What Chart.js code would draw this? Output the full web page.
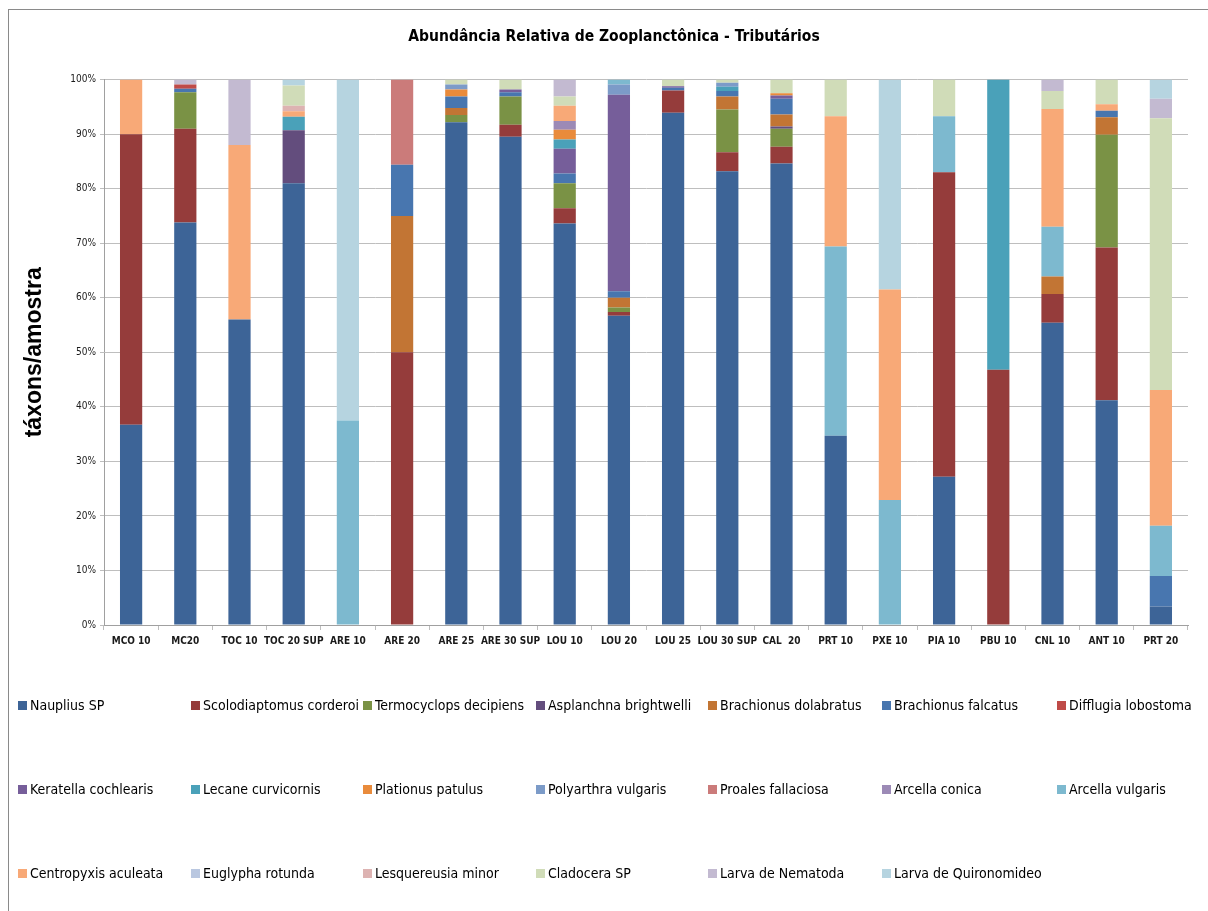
<!DOCTYPE html>
<html lang="pt">
<head>
<meta charset="UTF-8">
<title>Abundância Relativa de Zooplanctônica - Tributários</title>
<script src="https://cdn.jsdelivr.net/npm/chart.js"></script>
<style>
  html, body { margin: 0; padding: 0; background: #fff; }
  #wrap { position: relative; width: 1208px; height: 911px; overflow: hidden; }
  #frame { position: absolute; left: 8px; top: 9px; width: 1400px; height: 1100px;
           border-left: 1px solid #8a8a8a; border-top: 1px solid #8a8a8a; }
  #chart { position: absolute; left: 0; top: 0; }
  #legend { position: absolute; left: 0; top: 0; width: 1208px; height: 911px; pointer-events: none;
            font-family: "Liberation Sans Narrow", "DejaVu Sans Condensed", sans-serif; font-size: 14px; color: #000; }
  .item { position: absolute; height: 20px; line-height: 20px; display: flex; align-items: center; white-space: nowrap; }
  .item span.box { width: 9px; height: 9px; margin-right: 3px; display: inline-block; }
</style>
</head>
<body>
<div id="wrap">
  <div id="frame"></div>
  <canvas id="chart" width="1208" height="911"></canvas>
  <div id="legend"></div>
</div>
<script>
// categories (sampling points)
const pontos = ["MCO 10", "MC20", "TOC 10", "TOC 20 SUP", "ARE 10", "ARE 20", "ARE 25", "ARE 30 SUP",
                "LOU 10", "LOU 20", "LOU 25", "LOU 30 SUP", "CAL  20", "PRT 10", "PXE 10", "PIA 10",
                "PBU 10", "CNL 10", "ANT 10", "PRT 20"];

// relative abundance (%) per taxon, one value per point
const naupliusSP       = [36.7, 73.8, 56.0, 81.0, 0, 0, 92.2, 89.5, 73.6, 56.7, 93.9, 83.2, 84.6, 34.7, 0, 27.2, 0, 55.4, 41.2, 3.4];
const scolodiaptomus   = [53.3, 17.2, 0, 0, 0, 50.0, 0, 2.2, 2.8, 0.7, 4.1, 3.5, 3.1, 0, 0, 55.8, 46.8, 5.3, 28.0, 0];
const termocyclops     = [0, 6.7, 0, 0, 0, 0, 1.3, 5.2, 4.6, 0.8, 0, 7.8, 3.3, 0, 0, 0, 0, 0, 20.7, 0];
const asplanchna       = [0, 0, 0, 9.7, 0, 0, 0, 0, 0, 0, 0, 0, 0.4, 0, 0, 0, 0, 0, 0, 0];
const brachDolabratus  = [0, 0, 0, 0, 0, 25.0, 1.3, 0, 0, 1.8, 0, 2.4, 2.2, 0, 0, 0, 0, 3.2, 3.2, 0];
const brachFalcatus    = [0, 0.6, 0, 0, 0, 9.4, 2.1, 0.8, 1.8, 1.2, 0.5, 1.0, 2.9, 0, 0, 0, 0, 0, 1.2, 5.6];
const difflugia        = [0, 0.8, 0, 0, 0, 0, 0, 0, 0, 0, 0, 0, 0, 0, 0, 0, 0, 0, 0, 0];
const keratella        = [0, 0, 0, 0, 0, 0, 0, 0.5, 4.5, 36.0, 0.3, 0, 0.6, 0, 0, 0, 0, 0, 0, 0];
const lecane           = [0, 0, 0, 2.5, 0, 0, 0, 0, 1.7, 0, 0, 0.8, 0, 0, 0, 0, 53.2, 0, 0, 0];
const plationus        = [0, 0, 0, 0, 0, 0, 1.3, 0, 1.8, 0, 0, 0, 0.4, 0, 0, 0, 0, 0, 0, 0];
const polyarthra       = [0, 0, 0, 0, 0, 0, 0.9, 0, 0, 1.9, 0, 0.7, 0, 0, 0, 0, 0, 0, 0, 0];
const proales          = [0, 0, 0, 0, 0, 15.6, 0, 0, 0, 0, 0, 0, 0, 0, 0, 0, 0, 0, 0, 0];
const arcellaConica    = [0, 0, 0, 0, 0, 0, 0, 0, 1.6, 0, 0, 0, 0, 0, 0, 0, 0, 0, 0, 0];
const arcellaVulgaris  = [0, 0, 0, 0, 37.5, 0, 0, 0, 0, 0.9, 0, 0, 0, 34.7, 22.9, 10.3, 0, 9.1, 0, 9.2];
const centropyxis      = [10.0, 0, 32.0, 1.0, 0, 0, 0, 0, 2.8, 0, 0, 0, 0, 23.9, 38.6, 0, 0, 21.6, 1.2, 24.9];
const euglypha         = [0, 0, 0, 0, 0, 0, 0, 0, 0, 0, 0, 0, 0, 0, 0, 0, 0, 0, 0, 0];
const lesquereusia     = [0, 0, 0, 1.0, 0, 0, 0, 0, 0, 0, 0, 0, 0, 0, 0, 0, 0, 0, 0, 0];
const cladoceraSP      = [0, 0, 0, 3.7, 0, 0, 0.9, 1.8, 1.7, 0, 1.2, 0.6, 2.5, 6.7, 0, 6.7, 0, 3.3, 4.5, 49.8];
const larvaNematoda    = [0, 0.9, 12.0, 0, 0, 0, 0, 0, 3.1, 0, 0, 0, 0, 0, 0, 0, 0, 2.1, 0, 3.6];
const larvaQuironom    = [0, 0, 0, 1.1, 62.5, 0, 0, 0, 0, 0, 0, 0, 0, 0, 38.5, 0, 0, 0, 0, 3.5];

const yTicks = [0, 10, 20, 30, 40, 50, 60, 70, 80, 90, 100];

const series = [
  ["Nauplius SP", naupliusSP, "#3d6497"],
  ["Scolodiaptomus corderoi", scolodiaptomus, "#953c3b"],
  ["Termocyclops decipiens", termocyclops, "#7a9245"],
  ["Asplanchna brightwelli", asplanchna, "#634d7d"],
  ["Brachionus dolabratus", brachDolabratus, "#c27534"],
  ["Brachionus falcatus", brachFalcatus, "#4876af"],
  ["Difflugia lobostoma", difflugia, "#bf4b48"],
  ["Keratella cochlearis", keratella, "#765e9a"],
  ["Lecane curvicornis", lecane, "#4aa1b9"],
  ["Plationus patulus", plationus, "#e98b3b"],
  ["Polyarthra vulgaris", polyarthra, "#7c9bc8"],
  ["Proales fallaciosa", proales, "#cb7b7a"],
  ["Arcella conica", arcellaConica, "#9c8ab6"],
  ["Arcella vulgaris", arcellaVulgaris, "#7db9cf"],
  ["Centropyxis aculeata", centropyxis, "#f8a977"],
  ["Euglypha rotunda", euglypha, "#b9c7e0"],
  ["Lesquereusia minor", lesquereusia, "#ddb3b2"],
  ["Cladocera SP", cladoceraSP, "#d0dcb8"],
  ["Larva de Nematoda", larvaNematoda, "#c3bad1"],
  ["Larva de Quironomideo", larvaQuironom, "#b6d4e0"]
];

const narrow = '"Liberation Sans Narrow", "DejaVu Sans Condensed", sans-serif';

new Chart(document.getElementById('chart'), {
  type: 'bar',
  data: {
    labels: pontos,
    datasets: series.map(s => ({
      label: s[0],
      data: s[1],
      backgroundColor: s[2],
      borderWidth: 0,
      barPercentage: 0.41,
      categoryPercentage: 1.0
    }))
  },
  options: {
    responsive: false,
    animation: false,
    // left padding keeps the title centred like the original; y axis fills the rest
    layout: { padding: { top: 10, left: 40, right: 20, bottom: 250 } },
    plugins: {
      legend: { display: false },
      tooltip: { enabled: false },
      title: {
        display: true,
        text: 'Abundância Relativa de Zooplanctônica - Tributários',
        color: '#000',
        font: { family: narrow, size: 15.5, weight: 'bold' },
        padding: { top: 18, bottom: 33 }
      }
    },
    scales: {
      x: {
        stacked: true,
        afterFit: s => { s.height = 36; },
        grid: { drawOnChartArea: false, tickLength: 5, color: '#bebebe' },
        border: { color: '#a0a0a0' },
        ticks: { color: '#1a1a1a', font: { family: narrow, size: 10, weight: 'bold' }, padding: 5, maxRotation: 0, autoSkip: false }
      },
      y: {
        stacked: true,
        min: 0,
        max: 100,
        afterFit: s => { s.width = 64; },
        afterBuildTicks: s => { s.ticks = yTicks.map(v => ({ value: v })); },
        grid: { color: '#bebebe', tickLength: 4 },
        border: { color: '#a0a0a0' },
        ticks: { color: '#1a1a1a', font: { family: narrow, size: 10 }, padding: 4, callback: v => v + '%' },
        title: {
          display: true,
          text: 'táxons/amostra',
          color: '#000',
          font: { family: 'Liberation Sans, sans-serif', size: 23, weight: 'bold' },
          padding: { top: -19, bottom: 0 }
        }
      }
    }
  }
});

// legend: 3 rows x 7 columns, like the spreadsheet chart
const legendCols = [18, 191, 363, 536, 708, 882, 1057];
const legendRows = [705, 789, 873];
const legendEl = document.getElementById('legend');
series.forEach((s, i) => {
  const it = document.createElement('div');
  it.className = 'item';
  it.style.left = legendCols[i % 7] + 'px';
  it.style.top = (legendRows[Math.floor(i / 7)] - 10) + 'px';
  it.innerHTML = '<span class="box" style="background:' + s[2] + '"></span>' + s[0];
  legendEl.appendChild(it);
});
</script>
</body>
</html>
